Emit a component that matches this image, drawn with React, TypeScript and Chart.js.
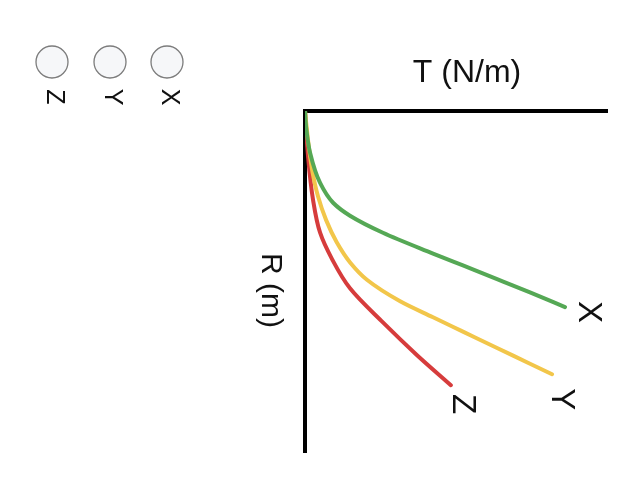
import React, { useEffect, useRef } from "react";
import { Chart, registerables } from "chart.js";

Chart.register(...registerables);

// Series names / legend labels
const seriesNames = ["X", "Y", "Z"];
const legendOrder = ["Z", "Y", "X"];
const seriesColors = ["#55a855", "#f2c64a", "#d63c3c"];

// T (N/m) values (horizontal) and R (m) values (vertical, downward)
const tX = [0, 0.4, 1.7, 5.0, 9.3, 14.9, 25.8, 42.4, 52.3, 63.6, 74.5, 86.1];
const rX = [0, 5.0, 12.3, 21.1, 26.9, 30.7, 35.7, 41.8, 45.3, 49.3, 53.2, 57.5];

const tY = [0, 1.2, 2.5, 4.3, 7.0, 10.5, 15.0, 20.5, 31.5, 42.4, 52.3, 63.6, 74.5, 81.8];
const rY = [0, 10.0, 18.0, 25.0, 32.0, 38.5, 44.5, 49.5, 55.8, 60.5, 64.7, 69.5, 74.1, 77.2];

const tZ = [0, 1.0, 2.6, 5.0, 9.0, 14.9, 25.8, 37.1, 48.3];
const rZ = [0, 13.2, 25.7, 35.7, 43.5, 52.0, 62.0, 71.6, 80.4];

const xTitle = "T (N/m)";
const yTitle = "R (m)";

const FONT = '"Liberation Sans", Arial, sans-serif';

function toPoints(t: number[], r: number[]) {
  return t.map((v, i) => ({ x: v, y: r[i] }));
}

const labelOffsets: Record<string, [number, number]> = {
  X: [23, 5],
  Y: [9, 25],
  Z: [11, 19],
};

function rotatedText(ctx: CanvasRenderingContext2D, text: string, x: number, y: number, font: string) {
  ctx.save();
  ctx.translate(x, y);
  ctx.rotate(Math.PI / 2);
  ctx.font = font;
  ctx.textAlign = "center";
  ctx.textBaseline = "middle";
  ctx.fillText(text, 0, 0);
  ctx.restore();
}

const overlayPlugin = {
  id: "overlay",
  afterDraw(chart: any) {
    const ctx: CanvasRenderingContext2D = chart.ctx;
    const area = chart.chartArea;
    ctx.save();
    ctx.fillStyle = "#111";

    // x title (top)
    ctx.font = `32px ${FONT}`;
    ctx.textAlign = "center";
    ctx.textBaseline = "middle";
    ctx.fillText(xTitle, area.left + 162, area.top - 38);

    // y title rotated (reads top-to-bottom)
    rotatedText(ctx, yTitle, area.left - 35, (area.top + area.bottom) / 2 + 9, `30px ${FONT}`);

    // end labels
    chart.data.datasets.forEach((ds: any, i: number) => {
      const meta = chart.getDatasetMeta(i);
      const last = meta.data[meta.data.length - 1];
      const name = seriesNames[i];
      const off = labelOffsets[name];
      ctx.fillStyle = "#111";
      rotatedText(ctx, name, last.x + off[0], last.y + off[1], `33px ${FONT}`);
    });

    // legend (circles + rotated labels)
    const lx = [52, 110, 167];
    legendOrder.forEach((name, i) => {
      ctx.beginPath();
      ctx.arc(lx[i], 62, 16, 0, Math.PI * 2);
      ctx.fillStyle = "#f6f7f9";
      ctx.fill();
      ctx.lineWidth = 1.3;
      ctx.strokeStyle = "#7c7c7c";
      ctx.stroke();
      ctx.fillStyle = "#111";
      rotatedText(ctx, name, lx[i] + 2, 97, `25px ${FONT}`);
    });
    ctx.restore();
  },
};

export default function App() {
  const ref = useRef<HTMLCanvasElement | null>(null);

  useEffect(() => {
    if (!ref.current) return;
    const chart = new Chart(ref.current, {
      type: "scatter",
      data: {
        datasets: [
          { label: "X", data: toPoints(tX, rX) },
          { label: "Y", data: toPoints(tY, rY) },
          { label: "Z", data: toPoints(tZ, rZ) },
        ].map((d, i) => ({
          ...d,
          showLine: true,
          borderColor: seriesColors[i],
          backgroundColor: seriesColors[i],
          borderWidth: 4,
          pointRadius: 0,
          cubicInterpolationMode: "monotone" as const,
          borderCapStyle: "round" as const,
        })),
      },
      options: {
        animation: false,
        responsive: true,
        maintainAspectRatio: false,
        indexAxis: "y",
        layout: { padding: { left: 305, top: 111, right: 22, bottom: 44 } },
        plugins: { legend: { display: false }, tooltip: { enabled: false } },
        scales: {
          x: {
            type: "linear",
            position: "top",
            min: 0,
            max: 100,
            grid: { display: false, drawTicks: false },
            ticks: { display: false },
            border: { display: true, color: "#000", width: 4 },
          },
          y: {
            type: "linear",
            position: "left",
            reverse: true,
            min: 0,
            max: 100,
            grid: { display: false, drawTicks: false },
            ticks: { display: false },
            border: { display: true, color: "#000", width: 4 },
          },
        },
      },
      plugins: [overlayPlugin],
    });
    return () => chart.destroy();
  }, []);

  return (
    <div style={{ position: "fixed", left: 0, top: 0, width: 629, height: 496, background: "#fff" }}>
      <canvas ref={ref} />
    </div>
  );
}
